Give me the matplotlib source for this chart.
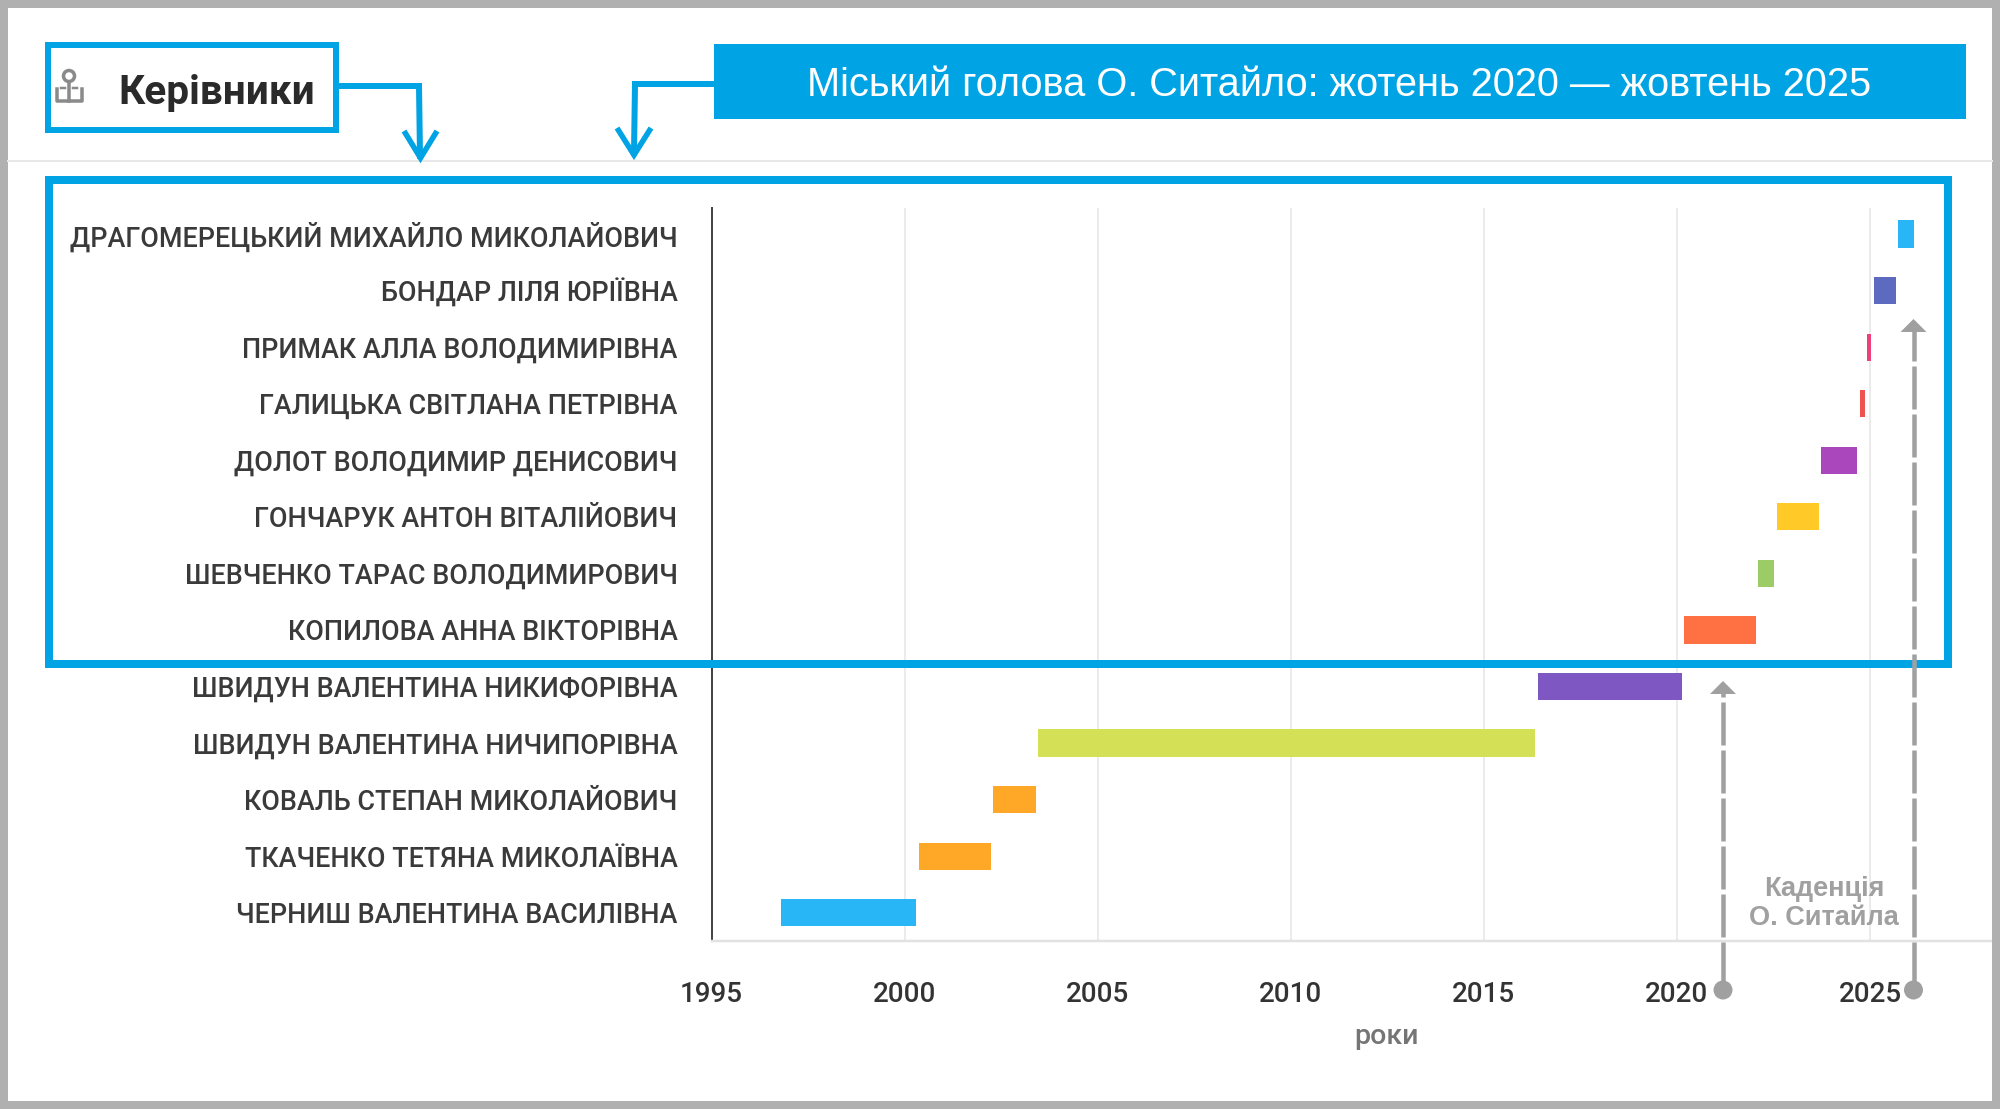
import matplotlib
matplotlib.use('Agg')
import matplotlib.pyplot as plt
from matplotlib.patches import Rectangle, Circle, Polygon

# Дані: керівники, початок і кінець каденції
names = ['ДРАГОМЕРЕЦЬКИЙ МИХАЙЛО МИКОЛАЙОВИЧ', 'БОНДАР ЛІЛЯ ЮРІЇВНА',
         'ПРИМАК АЛЛА ВОЛОДИМИРІВНА', 'ГАЛИЦЬКА СВІТЛАНА ПЕТРІВНА',
         'ДОЛОТ ВОЛОДИМИР ДЕНИСОВИЧ', 'ГОНЧАРУК АНТОН ВІТАЛІЙОВИЧ',
         'ШЕВЧЕНКО ТАРАС ВОЛОДИМИРОВИЧ', 'КОПИЛОВА АННА ВІКТОРІВНА',
         'ШВИДУН ВАЛЕНТИНА НИКИФОРІВНА', 'ШВИДУН ВАЛЕНТИНА НИЧИПОРІВНА',
         'КОВАЛЬ СТЕПАН МИКОЛАЙОВИЧ', 'ТКАЧЕНКО ТЕТЯНА МИКОЛАЇВНА',
         'ЧЕРНИШ ВАЛЕНТИНА ВАСИЛІВНА']
starts = [2025.73, 2025.09, 2024.91, 2024.74, 2023.74, 2022.58, 2022.09,
          2020.19, 2016.39, 2003.45, 2002.28, 2000.36, 1996.80]
ends = [2026.14, 2025.68, 2025.03, 2024.87, 2024.67, 2023.68, 2022.52,
        2022.05, 2020.14, 2016.33, 2003.40, 2002.24, 2000.30]
colors = ['#29b6f6', '#5c6bc0', '#ec407a', '#ef5350', '#ab47bc', '#ffca28',
          '#9ccc65', '#ff7043', '#7e57c2', '#d4e157', '#ffa726', '#ffa726',
          '#29b6f6']
years = [1995, 2000, 2005, 2010, 2015, 2020, 2025]

W, H = 2000, 1109
BLUE = '#00a3e3'
GRAY = '#a0a0a0'
px = 0.72  # один піксель у пунктах при dpi=100

fig = plt.figure(figsize=(W / 100, H / 100), dpi=100, facecolor='white')

# Основний графік
left, right, top, bottom = 711.5, 1992, 208, 941
ax = fig.add_axes([left / W, 1 - bottom / H, (right - left) / W, (bottom - top) / H])
ax.barh(range(len(names)), [e - s for s, e in zip(starts, ends)], left=starts,
        height=0.48, color=colors, edgecolor='none', zorder=3)
ax.set_xlim(1995, 1995 + (right - left) / 38.62)
ax.set_ylim(12.5, -0.46)
ax.set_yticks(range(len(names)))
ax.set_yticklabels(names, family='Roboto', fontsize=19.4, fontweight='medium', color='#3a3a3a')
ax.set_xticks(years)
ax.set_xticklabels(years, family='Roboto', fontsize=20, fontweight='medium', color='#333333')
ax.tick_params(axis='y', length=0, pad=24.5)
ax.tick_params(axis='x', length=0, pad=28.5)
ax.grid(axis='x', color='#ebebeb', linewidth=2 * px, zorder=0)
ax.set_axisbelow(True)
for s in ['top', 'right']:
    ax.spines[s].set_visible(False)
ax.spines['left'].set_color('#444444')
ax.spines['left'].set_linewidth(2 * px)
ax.spines['bottom'].set_color('#e2e2e2')
ax.spines['bottom'].set_linewidth(2.5 * px)
ax.set_xlabel('роки', family='Roboto', fontsize=20.5, fontweight='medium', color='#757575')
ax.xaxis.set_label_coords(0.527, -0.1305)
ax.xaxis.label.set_va('center')

# Накладка в пікселях для рамок і стрілок
ov = fig.add_axes([0, 0, 1, 1], zorder=5)
ov.set_xlim(0, W)
ov.set_ylim(H, 0)
ov.axis('off')
ov.patch.set_alpha(0)

# Сіра рамка зображення
ov.add_patch(Rectangle((4, 4), W - 8, H - 8, fill=False, ec='#b0b0b0', lw=8 * px))
ov.plot([8, 1992], [161, 161], color='#e8e8e8', lw=2 * px)

# Заголовок розділу
ov.add_patch(Rectangle((48, 45), 288, 85, fill=False, ec=BLUE, lw=6 * px))
ov.text(118.5, 92.5, 'Керівники', family='Roboto', fontweight='bold', fontsize=29.2,
        color='#2a2a2a', ha='left', va='center')
# Значок
ic = '#8a8a8a'
ov.add_patch(Circle((69, 76), 5.5, fill=False, ec=ic, lw=3.5 * px))
ov.plot([69, 69], [84, 101], color=ic, lw=3.5 * px)
ov.plot([57, 57, 82, 82], [89, 101, 101, 89], color=ic, lw=3.5 * px)
ov.plot([61, 65], [88, 88], color=ic, lw=2.5 * px)
ov.plot([73, 77], [88, 88], color=ic, lw=2.5 * px)

# Блакитний банер
ov.add_patch(Rectangle((714, 44), 1252, 75, fc=BLUE, ec='none'))
ov.text(1339, 85, 'Міський голова О. Ситайло: жотень 2020 — жовтень 2025',
        family='Liberation Sans', fontsize=28.65, color='white', ha='center', va='center')

# Блакитні стрілки-виноски
ov.plot([339, 419, 420], [86, 86, 156], color=BLUE, lw=6 * px, solid_joinstyle='miter')
ov.plot([404, 420.5, 437], [131, 158, 131], color=BLUE, lw=5.5 * px,
        solid_joinstyle='miter', solid_capstyle='butt')
ov.plot([714, 635, 634], [84, 84, 153], color=BLUE, lw=6 * px, solid_joinstyle='miter')
ov.plot([617, 634, 651], [128, 155, 128], color=BLUE, lw=5.5 * px,
        solid_joinstyle='miter', solid_capstyle='butt')

# Блакитна рамка навколо верхніх рядків
ov.add_patch(Rectangle((49, 180), 1899, 484, fill=False, ec=BLUE, lw=8 * px,
                       joinstyle='miter'))

# Сірі стрілки каденції
for x, tip in [(1723, 681), (1913.5, 319)]:
    ov.plot([x, x], [985, tip + 12], color=GRAY, lw=4.5 * px,
            dashes=(43 / 4.5, 5 / 4.5), dash_capstyle='butt')
    ov.add_patch(Polygon([(x, tip), (x - 13, tip + 13), (x + 13, tip + 13)], fc=GRAY, ec='none'))
    ov.add_patch(Circle((x, 990), 9.5, fc=GRAY, ec='none'))
ov.text(1824, 889, 'Каденція', family='Liberation Sans', fontweight='bold', fontsize=19.5,
        color=GRAY, ha='center', va='center')
ov.text(1824, 918, 'О. Ситайла', family='Liberation Sans', fontweight='bold', fontsize=19.5,
        color=GRAY, ha='center', va='center')

plt.savefig('out.png', dpi=100)
